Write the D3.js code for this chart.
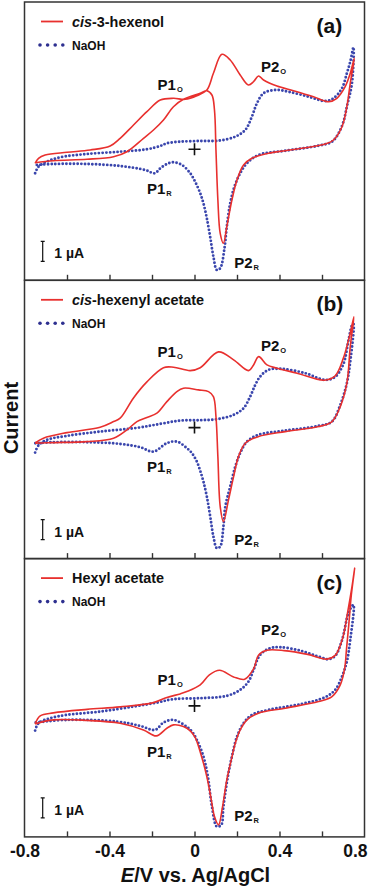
<!DOCTYPE html>
<html>
<head>
<meta charset="utf-8">
<script src="https://cdn.jsdelivr.net/npm/d3@7"></script>
<style>
  body { margin: 0; background: #fff; }
  svg { display: block; font-family: "Liberation Sans", Arial, sans-serif; font-weight: bold; }
</style>
</head>
<body>
<svg id="chart" width="379" height="887"></svg>
<script>
// ---- data: [E (V vs Ag/AgCl), current (uA, relative to the + mark)] ----
// one full cycle per series: anodic sweep to +0.75 V, then cathodic sweep back

const hexenolA = [
  [-0.750,-0.70],[-0.734,-0.45],[-0.703,-0.285],[-0.600,-0.15],[-0.491,-0.035],[-0.397,0.165],
  [-0.350,0.55],[-0.287,1.215],[-0.224,1.88],[-0.161,2.465],[-0.099,2.55],[-0.044,2.50],
  [0.011,2.68],[0.058,2.965],[0.089,3.80],[0.129,4.75],[0.168,4.465],[0.215,3.715],
  [0.254,3.215],[0.278,3.38],[0.301,3.665],[0.325,3.465],[0.388,3.165],[0.466,2.93],
  [0.560,2.63],[0.631,2.38],[0.670,2.55],[0.709,3.13],[0.733,3.80],[0.752,4.55],
  [0.733,3.30],[0.717,2.13],[0.694,1.13],[0.654,0.465],[0.615,0.265],[0.505,0.05],
  [0.427,-0.07],[0.348,-0.20],[0.270,-0.45],[0.231,-0.785],[0.200,-1.535],[0.176,-2.535],
  [0.152,-3.87],[0.136,-4.70],[0.121,-4.20],[0.110,-2.535],[0.101,-0.035],[0.094,1.965],
  [0.082,2.715],[0.058,2.93],[0.027,2.80],[-0.052,2.50],[-0.099,2.13],[-0.146,1.465],
  [-0.193,0.965],[-0.240,0.55],[-0.318,-0.12],[-0.381,-0.37],[-0.506,-0.50],[-0.664,-0.57],
  [-0.750,-0.67]
];

const naohA = [
  [-0.750,-1.20],[-0.734,-0.87],[-0.695,-0.62],[-0.632,-0.40],[-0.506,-0.235],[-0.350,-0.12],
  [-0.224,0.0],[-0.161,0.165],[-0.130,0.30],[-0.067,0.38],[0.027,0.415],[0.113,0.43],
  [0.192,0.63],[0.239,0.965],[0.270,1.63],[0.294,2.30],[0.325,2.80],[0.380,2.965],
  [0.442,2.88],[0.536,2.63],[0.615,2.415],[0.654,2.55],[0.694,3.05],[0.717,3.80],
  [0.733,4.38],[0.748,5.10],
  [0.741,3.30],[0.717,2.13],[0.701,1.38],[0.678,0.80],[0.647,0.38],[0.584,0.18],
  [0.427,-0.07],[0.301,-0.285],[0.247,-0.70],[0.215,-1.20],[0.188,-1.87],[0.168,-2.70],
  [0.152,-3.87],[0.141,-4.95],[0.121,-5.95],[0.105,-6.035],[0.089,-5.37],[0.074,-4.40],
  [0.058,-3.45],[0.042,-2.70],[0.027,-2.20],[0.003,-1.62],[-0.020,-1.20],[-0.059,-0.785],
  [-0.099,-0.65],[-0.130,-0.735],[-0.161,-0.95],[-0.187,-1.20],[-0.232,-1.035],[-0.350,-0.835],
  [-0.506,-0.735],[-0.664,-0.735],[-0.750,-0.785]
];

const hexenylAcetateB = [
  [-0.750,-0.765],[-0.711,-0.53],[-0.600,-0.25],[-0.444,0.02],[-0.381,0.30],[-0.350,0.47],
  [-0.287,1.485],[-0.224,2.285],[-0.146,2.995],[-0.099,3.02],[-0.020,2.85],[0.027,2.995],
  [0.113,3.785],[0.184,3.385],[0.254,2.85],[0.278,3.135],[0.302,3.55],[0.341,3.135],
  [0.388,2.97],[0.483,2.72],[0.610,2.37],[0.662,2.585],[0.701,3.485],[0.725,4.385],
  [0.733,4.72],[0.750,5.535],
  [0.733,4.05],[0.717,2.22],[0.686,1.05],[0.647,0.30],[0.584,0.05],[0.427,-0.20],
  [0.301,-0.45],[0.239,-0.78],[0.207,-1.45],[0.184,-2.45],[0.160,-3.615],[0.136,-4.70],
  [0.121,-3.95],[0.110,-1.45],[0.101,0.55],[0.089,1.55],[0.066,1.80],[0.019,1.885],
  [-0.052,1.97],[-0.083,1.80],[-0.130,1.30],[-0.177,0.72],[-0.224,0.51],[-0.271,0.30],
  [-0.318,-0.115],[-0.381,-0.53],[-0.506,-0.70],[-0.664,-0.75],[-0.750,-0.78]
];

const naohB = [
  [-0.750,-1.25],[-0.734,-0.89],[-0.695,-0.615],[-0.600,-0.415],[-0.444,-0.20],[-0.271,-0.015],
  [-0.161,0.185],[-0.067,0.35],[0.027,0.37],[0.105,0.42],[0.184,0.635],[0.231,0.97],
  [0.262,1.55],[0.286,2.135],[0.309,2.55],[0.348,2.885],[0.411,2.935],[0.521,2.72],
  [0.615,2.385],[0.662,2.535],[0.701,3.185],[0.725,4.385],[0.741,5.11],[0.748,5.185],
  [0.733,3.30],[0.717,2.22],[0.686,1.135],[0.647,0.30],[0.584,0.085],[0.427,-0.15],
  [0.301,-0.365],[0.247,-0.70],[0.215,-1.28],[0.192,-1.95],[0.168,-2.95],[0.145,-3.95],
  [0.136,-4.95],[0.121,-5.95],[0.105,-6.03],[0.089,-5.45],[0.074,-4.45],[0.058,-3.45],
  [0.042,-2.70],[0.027,-2.165],[0.011,-1.70],[-0.012,-1.28],[-0.036,-1.03],[-0.083,-0.70],
  [-0.130,-0.78],[-0.193,-1.20],[-0.256,-0.98],[-0.350,-0.815],[-0.506,-0.73],[-0.664,-0.73],
  [-0.750,-0.78]
];

const hexylAcetateC = [
  [-0.750,-0.90],[-0.726,-0.50],[-0.664,-0.35],[-0.506,-0.175],[-0.350,-0.05],[-0.193,0.165],
  [-0.130,0.425],[-0.067,0.60],[-0.036,0.715],[0.027,1.05],[0.070,1.55],[0.118,1.78],
  [0.184,1.45],[0.236,1.33],[0.278,1.85],[0.302,2.55],[0.341,2.785],[0.422,2.765],
  [0.533,2.575],[0.622,2.34],[0.662,2.525],[0.697,3.385],[0.721,4.70],[0.741,5.95],
  [0.754,6.90],
  [0.738,5.55],[0.726,4.05],[0.715,2.80],[0.707,1.90],[0.686,1.05],[0.647,0.465],
  [0.584,0.215],[0.427,-0.115],[0.301,-0.365],[0.247,-0.70],[0.215,-1.20],[0.192,-1.865],
  [0.173,-2.70],[0.152,-3.70],[0.132,-5.035],[0.113,-5.95],[0.094,-5.535],[0.079,-4.70],
  [0.058,-3.535],[0.027,-2.30],[0.003,-1.575],[-0.020,-1.25],[-0.052,-1.035],[-0.099,-0.95],
  [-0.130,-1.115],[-0.180,-1.50],[-0.240,-1.20],[-0.350,-0.865],[-0.506,-0.725],[-0.664,-0.70],
  [-0.750,-0.90]
];

const naohC = [
  [-0.750,-1.235],[-0.734,-0.865],[-0.679,-0.615],[-0.600,-0.45],[-0.444,-0.285],[-0.287,-0.035],
  [-0.177,0.165],[-0.099,0.335],[0.027,0.385],[0.152,0.50],[0.215,0.80],[0.254,1.215],
  [0.278,1.80],[0.309,2.55],[0.356,2.885],[0.403,2.935],[0.497,2.765],[0.592,2.435],
  [0.631,2.335],[0.662,2.50],[0.694,3.275],[0.725,4.65],[0.748,5.05],
  [0.733,3.30],[0.717,2.215],[0.694,1.465],[0.662,0.80],[0.615,0.435],[0.505,0.10],
  [0.348,-0.20],[0.270,-0.45],[0.231,-0.865],[0.200,-1.535],[0.176,-2.535],[0.157,-3.535],
  [0.136,-5.035],[0.126,-5.95],[0.105,-6.035],[0.082,-5.035],[0.063,-3.535],[0.042,-2.535],
  [0.011,-1.70],[-0.012,-1.285],[-0.036,-1.05],[-0.099,-0.70],[-0.146,-0.835],[-0.185,-1.20],
  [-0.256,-1.00],[-0.365,-0.785],[-0.600,-0.70],[-0.750,-0.835]
];

const minorTicks = [-0.6, -0.4, -0.2, 0, 0.2, 0.4, 0.6];
const majorTicks = [-0.8, -0.4, 0, 0.4, 0.8];
const tickLabels = ['-0.8', '-0.4', '0', '0.4', '0.8'];

// ---- panel setup ----
const panels = [
  { tag: '(a)', name: [['cis', true], ['-3-hexenol', false]], red: hexenolA, blue: naohA,
    labels: [['P1', 'O', -0.174, 2.965], ['P2', 'O', 0.3125, 3.88], ['P1', 'R', -0.224, -2.235], ['P2', 'R', 0.187, -5.95]] },
  { tag: '(b)', name: [['cis', true], ['-hexenyl acetate', false]], red: hexenylAcetateB, blue: naohB,
    labels: [['P1', 'O', -0.174, 3.55], ['P2', 'O', 0.3125, 3.85], ['P1', 'R', -0.224, -2.20], ['P2', 'R', 0.187, -5.865]] },
  { tag: '(c)', name: [['Hexyl acetate', false]], red: hexylAcetateC, blue: naohC,
    labels: [['P1', 'O', -0.174, 1.05], ['P2', 'O', 0.3125, 3.55], ['P1', 'R', -0.224, -2.535], ['P2', 'R', 0.187, -5.735]] }
];

const RED = '#e8302e';
const BLUE = '#3a46ad';
const FRAME = '#333';

const plotLeft = 24.5, plotRight = 364.5;
const panelTop0 = 2, panelH = 278.3;
const yDomain = [-6.55, 7.365];

const svg = d3.select('#chart');
const x = d3.scaleLinear().domain([-0.8, 0.8]).range([plotLeft, plotRight]);

panels.forEach((p, i) => {
  const top = panelTop0 + i * panelH;
  const bottom = top + panelH;
  const y = d3.scaleLinear().domain(yDomain).range([bottom, top]);
  const g = svg.append('g').attr('class', 'panel');

  const line = d3.line()
      .x(d => x(d[0]))
      .y(d => y(d[1]))
      .curve(d3.curveCatmullRom.alpha(0.5));

  // NaOH blank, dotted
  g.append('path')
      .datum(p.blue)
      .attr('d', line)
      .attr('fill', 'none')
      .attr('stroke', BLUE)
      .attr('stroke-width', 2.9)
      .attr('stroke-linecap', 'round')
      .attr('stroke-dasharray', '0 3.7');

  // compound, solid red
  g.append('path')
      .datum(p.red)
      .attr('d', line)
      .attr('fill', 'none')
      .attr('stroke', RED)
      .attr('stroke-width', 1.6)
      .attr('stroke-linejoin', 'round');

  // + mark at the origin
  const ox = x(0), oy = y(0);
  g.append('path')
      .attr('d', `M${ox - 6},${oy}H${ox + 6}M${ox},${oy - 6}V${oy + 6}`)
      .attr('stroke', '#111')
      .attr('stroke-width', 1.6);

  // frame
  g.append('rect')
      .attr('x', plotLeft).attr('y', top)
      .attr('width', plotRight - plotLeft).attr('height', panelH)
      .attr('fill', 'none')
      .attr('stroke', FRAME)
      .attr('stroke-width', 1.5);

  // inward ticks at the bottom of every panel
  const axisG = g.append('g')
      .attr('transform', `translate(0,${bottom})`)
      .call(d3.axisBottom(x).tickValues(minorTicks).tickSize(-5.5).tickFormat(''))
      .call(a => a.select('.domain').remove());
  axisG.selectAll('line').attr('stroke', FRAME).attr('stroke-width', 1.4);

  if (i === panels.length - 1) {
    const labG = g.append('g')
        .attr('transform', `translate(0,${bottom})`)
        .call(d3.axisBottom(x).tickValues(majorTicks).tickSize(0).tickPadding(7.5)
          .tickFormat((d, k) => tickLabels[k]))
        .call(a => a.select('.domain').remove());
    labG.selectAll('text')
        .attr('fill', '#111')
        .style('font-size', '17.5px')
        .style('font-weight', 'bold')
        .style('font-family', '"Liberation Sans", Arial, sans-serif');
    labG.selectAll('.tick').filter((d, k) => k === majorTicks.length - 1)
        .select('text').attr('text-anchor', 'end').attr('x', 2.5);
  }

  // panel tag
  g.append('text')
      .attr('x', 316.5).attr('y', top + 31)
      .style('font-size', '21px')
      .attr('fill', '#111')
      .text(p.tag);

  // legend
  g.append('line')
      .attr('x1', 41).attr('x2', 63)
      .attr('y1', top + 19.5).attr('y2', top + 19.5)
      .attr('stroke', RED).attr('stroke-width', 1.8);
  const nameT = g.append('text')
      .attr('x', 72).attr('y', top + 24.5)
      .style('font-size', '14.4px')
      .attr('fill', '#111');
  p.name.forEach(([s, it]) => {
    nameT.append('tspan').style('font-style', it ? 'italic' : 'normal').text(s);
  });
  g.selectAll('.legdot')
      .data([40, 47.6, 55.2, 62.8])
      .join('circle')
      .attr('class', 'legdot')
      .attr('cx', d => d).attr('cy', top + 43)
      .attr('r', 1.8)
      .attr('fill', '#2e3090');
  g.append('text')
      .attr('x', 72).attr('y', top + 47.5)
      .style('font-size', '12px')
      .attr('fill', '#111')
      .text('NaOH');

  // peak labels
  p.labels.forEach(([main, sub, e, c]) => {
    const t = g.append('text')
        .attr('x', x(e)).attr('y', y(c))
        .style('font-size', '15px')
        .attr('fill', '#111');
    t.append('tspan').text(main);
    t.append('tspan').attr('dx', 1).attr('dy', 2).style('font-size', '7.5px').text(sub);
  });

  // 1 uA scale bar
  const bx = 42.7;
  const b0 = y(-4.6), b1 = y(-5.6);
  g.append('path')
      .attr('d', `M${bx},${b0}V${b1}M${bx - 2},${b0}H${bx + 2}M${bx - 2},${b1}H${bx + 2}`)
      .attr('stroke', '#111').attr('stroke-width', 1.2).attr('fill', 'none');
  g.append('text')
      .attr('x', 54.3).attr('y', y(-5.2) + 5)
      .style('font-size', '14px')
      .attr('fill', '#111')
      .text('1 \u00b5A');
});

// axis titles
svg.append('text')
    .attr('transform', 'translate(18.3,418) rotate(-90)')
    .attr('text-anchor', 'middle')
    .style('font-size', '20px')
    .attr('fill', '#111')
    .text('Current');

const xt = svg.append('text')
    .attr('x', 195.5).attr('y', 881.7)
    .attr('text-anchor', 'middle')
    .style('font-size', '20px')
    .attr('fill', '#111');
xt.append('tspan').style('font-style', 'italic').text('E');
xt.append('tspan').text('/V vs. Ag/AgCl');
</script>
</body>
</html>
